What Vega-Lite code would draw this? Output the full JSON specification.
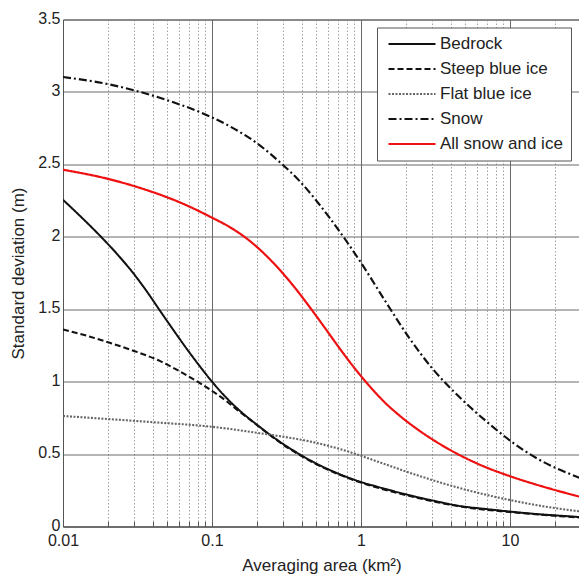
{
  "$schema": "https://vega.github.io/schema/vega-lite/v6.json",
  "width": 517,
  "height": 507,
  "autosize": {"type": "none"},
  "padding": {"left": 63, "top": 19.5, "right": 0, "bottom": 47.5},
  "background": "white",
  "config": {
    "font": "Liberation Sans",
    "view": {"stroke": "#555", "strokeWidth": 1}
  },
  "data": {"values": [
    {"surface": "Bedrock", "area": 0.01, "sd": 2.255},
    {"surface": "Bedrock", "area": 0.0135, "sd": 2.128},
    {"surface": "Bedrock", "area": 0.0176, "sd": 2.01},
    {"surface": "Bedrock", "area": 0.0233, "sd": 1.876},
    {"surface": "Bedrock", "area": 0.0295, "sd": 1.751},
    {"surface": "Bedrock", "area": 0.0365, "sd": 1.623},
    {"surface": "Bedrock", "area": 0.0446, "sd": 1.492},
    {"surface": "Bedrock", "area": 0.055, "sd": 1.357},
    {"surface": "Bedrock", "area": 0.0673, "sd": 1.23},
    {"surface": "Bedrock", "area": 0.0827, "sd": 1.107},
    {"surface": "Bedrock", "area": 0.1, "sd": 1.0},
    {"surface": "Bedrock", "area": 0.125, "sd": 0.888},
    {"surface": "Bedrock", "area": 0.15, "sd": 0.809},
    {"surface": "Bedrock", "area": 0.2, "sd": 0.703},
    {"surface": "Bedrock", "area": 0.25, "sd": 0.627},
    {"surface": "Bedrock", "area": 0.3, "sd": 0.57},
    {"surface": "Bedrock", "area": 0.36, "sd": 0.518},
    {"surface": "Bedrock", "area": 0.5, "sd": 0.435},
    {"surface": "Bedrock", "area": 0.7, "sd": 0.366},
    {"surface": "Bedrock", "area": 1, "sd": 0.307},
    {"surface": "Bedrock", "area": 1.335, "sd": 0.27},
    {"surface": "Bedrock", "area": 2, "sd": 0.222},
    {"surface": "Bedrock", "area": 3, "sd": 0.18},
    {"surface": "Bedrock", "area": 4.7, "sd": 0.14},
    {"surface": "Bedrock", "area": 7, "sd": 0.12},
    {"surface": "Bedrock", "area": 10, "sd": 0.103},
    {"surface": "Bedrock", "area": 15, "sd": 0.086},
    {"surface": "Bedrock", "area": 20, "sd": 0.077},
    {"surface": "Bedrock", "area": 29.5, "sd": 0.065},
    {"surface": "Steep blue ice", "area": 0.01, "sd": 1.36},
    {"surface": "Steep blue ice", "area": 0.015, "sd": 1.312},
    {"surface": "Steep blue ice", "area": 0.0206, "sd": 1.268},
    {"surface": "Steep blue ice", "area": 0.03, "sd": 1.212},
    {"surface": "Steep blue ice", "area": 0.0446, "sd": 1.143},
    {"surface": "Steep blue ice", "area": 0.0673, "sd": 1.045},
    {"surface": "Steep blue ice", "area": 0.083, "sd": 0.99},
    {"surface": "Steep blue ice", "area": 0.1, "sd": 0.936},
    {"surface": "Steep blue ice", "area": 0.125, "sd": 0.866},
    {"surface": "Steep blue ice", "area": 0.15, "sd": 0.8},
    {"surface": "Steep blue ice", "area": 0.2, "sd": 0.701},
    {"surface": "Steep blue ice", "area": 0.25, "sd": 0.624},
    {"surface": "Steep blue ice", "area": 0.3, "sd": 0.565},
    {"surface": "Steep blue ice", "area": 0.36, "sd": 0.513},
    {"surface": "Steep blue ice", "area": 0.5, "sd": 0.431},
    {"surface": "Steep blue ice", "area": 0.7, "sd": 0.362},
    {"surface": "Steep blue ice", "area": 1, "sd": 0.303},
    {"surface": "Steep blue ice", "area": 2, "sd": 0.217},
    {"surface": "Steep blue ice", "area": 3, "sd": 0.175},
    {"surface": "Steep blue ice", "area": 5, "sd": 0.133},
    {"surface": "Steep blue ice", "area": 10, "sd": 0.1},
    {"surface": "Steep blue ice", "area": 20, "sd": 0.074},
    {"surface": "Steep blue ice", "area": 29.5, "sd": 0.062},
    {"surface": "Flat blue ice", "area": 0.01, "sd": 0.763},
    {"surface": "Flat blue ice", "area": 0.0206, "sd": 0.741},
    {"surface": "Flat blue ice", "area": 0.0446, "sd": 0.717},
    {"surface": "Flat blue ice", "area": 0.0965, "sd": 0.69},
    {"surface": "Flat blue ice", "area": 0.209, "sd": 0.644},
    {"surface": "Flat blue ice", "area": 0.528, "sd": 0.572},
    {"surface": "Flat blue ice", "area": 0.84, "sd": 0.514},
    {"surface": "Flat blue ice", "area": 1.335, "sd": 0.443},
    {"surface": "Flat blue ice", "area": 2.123, "sd": 0.371},
    {"surface": "Flat blue ice", "area": 3.375, "sd": 0.305},
    {"surface": "Flat blue ice", "area": 5.364, "sd": 0.247},
    {"surface": "Flat blue ice", "area": 9.954, "sd": 0.183},
    {"surface": "Flat blue ice", "area": 17.09, "sd": 0.138},
    {"surface": "Flat blue ice", "area": 29.5, "sd": 0.104},
    {"surface": "Snow", "area": 0.01, "sd": 3.103},
    {"surface": "Snow", "area": 0.02, "sd": 3.054},
    {"surface": "Snow", "area": 0.0303, "sd": 3.01},
    {"surface": "Snow", "area": 0.05, "sd": 2.943},
    {"surface": "Snow", "area": 0.0827, "sd": 2.861},
    {"surface": "Snow", "area": 0.1315, "sd": 2.763},
    {"surface": "Snow", "area": 0.1995, "sd": 2.647},
    {"surface": "Snow", "area": 0.2891, "sd": 2.51},
    {"surface": "Snow", "area": 0.3878, "sd": 2.384},
    {"surface": "Snow", "area": 0.6166, "sd": 2.13},
    {"surface": "Snow", "area": 1.0, "sd": 1.821},
    {"surface": "Snow", "area": 1.449, "sd": 1.559},
    {"surface": "Snow", "area": 2.133, "sd": 1.294},
    {"surface": "Snow", "area": 3.028, "sd": 1.088},
    {"surface": "Snow", "area": 4.597, "sd": 0.892},
    {"surface": "Snow", "area": 7.308, "sd": 0.706},
    {"surface": "Snow", "area": 9.954, "sd": 0.595},
    {"surface": "Snow", "area": 15.11, "sd": 0.471},
    {"surface": "Snow", "area": 29.5, "sd": 0.335},
    {"surface": "All snow and ice", "area": 0.01, "sd": 2.463},
    {"surface": "All snow and ice", "area": 0.02, "sd": 2.4},
    {"surface": "All snow and ice", "area": 0.0401, "sd": 2.308},
    {"surface": "All snow and ice", "area": 0.0607, "sd": 2.238},
    {"surface": "All snow and ice", "area": 0.1, "sd": 2.132},
    {"surface": "All snow and ice", "area": 0.1315, "sd": 2.067},
    {"surface": "All snow and ice", "area": 0.179, "sd": 1.972},
    {"surface": "All snow and ice", "area": 0.2258, "sd": 1.88},
    {"surface": "All snow and ice", "area": 0.2847, "sd": 1.772},
    {"surface": "All snow and ice", "area": 0.3589, "sd": 1.65},
    {"surface": "All snow and ice", "area": 0.4525, "sd": 1.515},
    {"surface": "All snow and ice", "area": 0.5706, "sd": 1.373},
    {"surface": "All snow and ice", "area": 0.7195, "sd": 1.229},
    {"surface": "All snow and ice", "area": 0.9072, "sd": 1.092},
    {"surface": "All snow and ice", "area": 1.144, "sd": 0.968},
    {"surface": "All snow and ice", "area": 1.443, "sd": 0.857},
    {"surface": "All snow and ice", "area": 1.818, "sd": 0.765},
    {"surface": "All snow and ice", "area": 2.477, "sd": 0.66},
    {"surface": "All snow and ice", "area": 3.938, "sd": 0.53},
    {"surface": "All snow and ice", "area": 6.261, "sd": 0.427},
    {"surface": "All snow and ice", "area": 9.954, "sd": 0.348},
    {"surface": "All snow and ice", "area": 17.09, "sd": 0.272},
    {"surface": "All snow and ice", "area": 29.5, "sd": 0.205}
  ]},
  "mark": {"type": "line", "interpolate": "monotone", "strokeCap": "butt", "clip": true},
  "encoding": {
    "x": {
      "field": "area", "type": "quantitative",
      "scale": {"type": "log", "domain": [0.01, 29.5], "nice": false},
      "axis": {
        "values": [0.01,0.02,0.03,0.04,0.05,0.06,0.07,0.08,0.09,0.1,0.2,0.3,0.4,0.5,0.6,0.7,0.8,0.9,1,2,3,4,5,6,7,8,9,10,20],
        "labelExpr": "datum.value == 0.01 ? '0.01' : datum.value == 0.1 ? '0.1' : datum.value == 1 ? '1' : datum.value == 10 ? '10' : ''",
        "grid": true,
        "gridColor": {"condition": {"test": "indexof([0.01,0.1,1,10], datum.value) >= 0", "value": "#6a6a6a"}, "value": "#a0a0a0"},
        "gridDash": {"condition": {"test": "indexof([0.01,0.1,1,10], datum.value) >= 0", "value": []}, "value": [1.5, 2]},
        "gridWidth": 1,
        "domainColor": "#555",
        "ticks": true,
        "tickSize": -5,
        "tickColor": "#555",
        "labelFontSize": 16,
        "labelColor": "#222",
        "labelPadding": 11,
        "labelFlush": false,
        "labelOverlap": false,
        "title": "Averaging area (km²)",
        "titleFontSize": 17,
        "titleFontWeight": "normal",
        "titleColor": "#222",
        "titlePadding": 9
      }
    },
    "y": {
      "field": "sd", "type": "quantitative",
      "scale": {"domain": [0, 3.5], "nice": false, "zero": false},
      "axis": {
        "values": [0, 0.5, 1, 1.5, 2, 2.5, 3, 3.5],
        "format": "~g",
        "grid": true,
        "gridColor": "#6a6a6a",
        "gridWidth": 1,
        "domainColor": "#555",
        "ticks": false,
        "labelFontSize": 16,
        "labelColor": "#222",
        "labelPadding": 3,
        "labelOffset": -1.5,
        "labelFlush": false,
        "title": "Standard deviation (m)",
        "titleFontSize": 17,
        "titleFontWeight": "normal",
        "titleColor": "#222",
        "titlePadding": 10
      }
    },
    "color": {
      "field": "surface", "type": "nominal",
      "scale": {"domain": ["Bedrock", "Steep blue ice", "Flat blue ice", "Snow", "All snow and ice"], "range": ["#111111", "#111111", "#666666", "#111111", "#ee1111"]},
      "legend": {
        "title": null,
        "orient": "none",
        "legendX": 314,
        "legendY": 8,
        "fillColor": "white",
        "strokeColor": "#555",
        "padding": 8,
        "symbolType": "M-1,0H8.4",
        "symbolSize": 100,
        "labelFontSize": 17,
        "labelColor": "#222",
        "labelOffset": 38,
        "rowPadding": 7
      }
    },
    "strokeDash": {
      "field": "surface", "type": "nominal",
      "scale": {"domain": ["Bedrock", "Steep blue ice", "Flat blue ice", "Snow", "All snow and ice"], "range": [[1, 0], [6, 3], [2, 1.5], [8, 3, 2, 3], [1, 0]]}
    },
    "strokeWidth": {
      "field": "surface", "type": "nominal",
      "scale": {"domain": ["Bedrock", "Steep blue ice", "Flat blue ice", "Snow", "All snow and ice"], "range": [2, 2.2, 2.5, 2.3, 4]}
    }
  }
}
